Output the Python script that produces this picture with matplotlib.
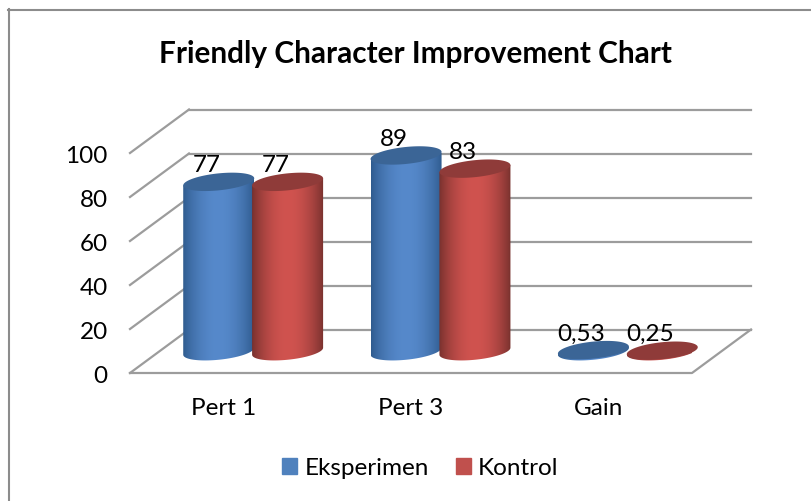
import numpy as np
import matplotlib.pyplot as plt
from matplotlib.colors import to_rgb
from matplotlib.lines import Line2D
from matplotlib.patches import Patch, Polygon
from matplotlib.transforms import ScaledTranslation

plt.rcParams["font.family"] = ["Lato", "DejaVu Sans"]

categories = ["Pert 1", "Pert 3", "Gain"]
eksperimen = [77, 89, 0.53]
kontrol = [77, 83, 0.25]
labels_eks = ["77", "89", "0,53"]
labels_kon = ["77", "83", "0,25"]
y_ticks = [0, 20, 40, 60, 80, 100]

W, H = 811, 502
# pixel box of the front of the floor
LEFT, RIGHT, BOTTOM, TOP = 130, 692, 374, 154
DEPTH_X = 59 / ((RIGHT - LEFT) / 3)  # in category units
DEPTH_Y = 43.5 / ((BOTTOM - TOP) / 100)  # in value units
RX = 35.5 / ((RIGHT - LEFT) / 3)
RY = 8.5 / ((BOTTOM - TOP) / 100)
TILT = 3.5 / ((BOTTOM - TOP) / 100)
GRID = "#9c9c9c"

fig = plt.figure(figsize=(W / 100, H / 100), dpi=100)
ax = fig.add_axes([LEFT / W, 1 - BOTTOM / H, (RIGHT - LEFT) / W, (BOTTOM - TOP) / H])

# the border is cropped: only the top and left sides are in the picture
fig.add_artist(Line2D([8 / W, 1], [1 - 10.5 / H, 1 - 10.5 / H], color="#8c8c8c", lw=1.5))
fig.add_artist(Line2D([9 / W, 9 / W], [1 - 10 / H, 0], color="#8c8c8c", lw=1.5))

# walls
for v in y_ticks:
    ax.plot([0, DEPTH_X], [v, v + DEPTH_Y], color=GRID, lw=1.6, clip_on=False, zorder=1)
    ax.plot([DEPTH_X, 3 + DEPTH_X], [v + DEPTH_Y, v + DEPTH_Y], color=GRID, lw=1.6, clip_on=False, zorder=1)
ax.plot([0, 3, 3 + DEPTH_X], [0, 0, DEPTH_Y], color=GRID, lw=1.6, clip_on=False, zorder=1)


def shade(light, dark):
    light, dark = np.array(to_rgb(light)), np.array(to_rgb(dark))
    t = np.linspace(0, np.pi, 80)
    k = np.sin(t)[:, None] ** 0.8
    return (dark + (light - dark) * k)[None, :, :]


def cylinder(x, value, light, dark, top):
    y = value + DEPTH_Y / 2
    base = DEPTH_Y / 2
    t = np.linspace(0, 2 * np.pi, 120)
    ex = RX * np.cos(t)
    ey = RY * np.sin(t) + TILT * np.cos(t)
    low = np.linspace(np.pi, 2 * np.pi, 60)
    body_x = np.r_[x + RX * np.cos(low), x + RX * np.cos(low[::-1])]
    body_y = np.r_[
        base + RY * np.sin(low) + TILT * np.cos(low),
        y + TILT * np.cos(low[::-1]),
    ]
    body = Polygon(np.c_[body_x, body_y], closed=True, transform=ax.transData, facecolor="none", edgecolor="none")
    ax.add_patch(body)
    im = ax.imshow(shade(light, dark), extent=[x - RX, x + RX, base - RY - TILT, y + RY + TILT],
                   aspect="auto", interpolation="bilinear", zorder=3, clip_on=True)
    im.set_clip_path(body)
    ax.fill(x + ex, y + ey, color=top, lw=0, clip_on=False, zorder=3)


x_pos = np.arange(len(categories)) + 0.5 + DEPTH_X / 2
for i in range(len(categories)):
    cylinder(x_pos[i] - RX * 0.97, eksperimen[i], "#5689cb", "#2f5b8e", "#3b6596")
    cylinder(x_pos[i] + RX * 0.97, kontrol[i], "#d0534f", "#76302d", "#8f3b39")
    for xx, val, txt in [
        (x_pos[i] - RX * 0.97, eksperimen[i], labels_eks[i]),
        (x_pos[i] + RX * 0.97, kontrol[i], labels_kon[i]),
    ]:
        ax.annotate(txt, (xx, val + DEPTH_Y / 2), xytext=(-12, 17), textcoords="offset pixels",
                    ha="center", va="center", fontsize=17.5, color="black", zorder=5, annotation_clip=False)

ax.set_xlim(0, 3)
ax.set_ylim(0, 100)
ax.set_xticks(np.arange(len(categories)) + 0.5)
ax.set_xticklabels(categories, fontsize=17.5)
ax.set_yticks(y_ticks)
ax.set_yticklabels([str(v) for v in y_ticks], fontsize=17.5)
ax.tick_params(axis="x", length=0, pad=17.5)
ax.tick_params(axis="y", length=0, pad=16)
nudge = ScaledTranslation(0, -1 / 100, fig.dpi_scale_trans)
for lab in ax.get_yticklabels():
    lab.set_transform(lab.get_transform() + nudge)
ax.patch.set_visible(False)
for s in ax.spines.values():
    s.set_visible(False)

fig.text(415 / W, 1 - 54 / H, "Friendly Character Improvement Chart", ha="center", va="center",
         fontsize=21.4, fontweight="bold")

handles = [Patch(color="#4f81bd", label="Eksperimen"), Patch(color="#c0504d", label="Kontrol")]
fig.legend(handles=handles, loc="center", bbox_to_anchor=(420.5 / W, 1 - 469 / H), ncol=2, frameon=False,
           fontsize=17.5, handlelength=0.62, handleheight=0.62, handletextpad=0.3, columnspacing=1.1)

fig.savefig("out.png", dpi=100)
